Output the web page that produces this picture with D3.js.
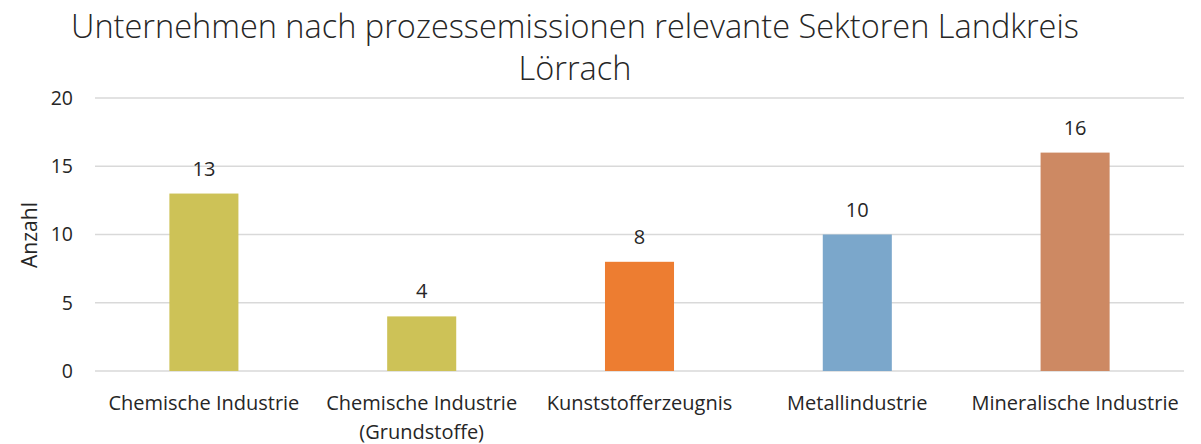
<!DOCTYPE html>
<html>
<head>
<meta charset="utf-8">
<script src="https://cdn.jsdelivr.net/npm/d3@7"></script>
<style>
  body { margin: 0; background: #fff; }
  text { font-family: "Open Sans", "Noto Sans", sans-serif; fill: #262626; }
</style>
</head>
<body>
<svg id="chart" width="1201" height="444"></svg>
<script>
const categories = [
  ['Chemische Industrie'],
  ['Chemische Industrie', '(Grundstoffe)'],
  ['Kunststofferzeugnis'],
  ['Metallindustrie'],
  ['Mineralische Industrie']
];
const counts = [13, 4, 8, 10, 16];
const barColors = ['#CDC257', '#CDC257', '#ED7D31', '#7BA7CB', '#CD8963'];
const yTicks = [0, 5, 10, 15, 20];
const titleLines = ['Unternehmen nach prozessemissionen relevante Sektoren Landkreis', 'Lörrach'];
const yTitle = 'Anzahl';

const svg = d3.select('#chart');
const margin = { left: 95, right: 17, top: 98, bottom: 73 };
const width = 1201, height = 444;

const x = d3.scaleBand()
  .domain(d3.range(counts.length))
  .range([margin.left, width - margin.right])
  .paddingInner(0.683).paddingOuter(0.3415);

const y = d3.scaleLinear().domain([0, 20]).range([height - margin.bottom, margin.top]);

// gridlines
svg.append('g').selectAll('line').data(yTicks).join('line')
  .attr('x1', margin.left).attr('x2', width - margin.right)
  .attr('y1', d => y(d)).attr('y2', d => y(d))
  .attr('stroke', '#D9D9D9').attr('stroke-width', 1.3);

// y axis labels
const yAxis = svg.append('g')
  .attr('transform', `translate(${margin.left},0)`)
  .call(d3.axisLeft(y).tickValues(yTicks).tickSize(0).tickPadding(22));
yAxis.select('.domain').remove();
yAxis.selectAll('text').style('font-size', '19.5px').style('font-family', '"Open Sans", sans-serif').attr('fill', '#262626');

// bars
svg.append('g').selectAll('rect').data(counts).join('rect')
  .attr('x', (d, i) => x(i)).attr('width', x.bandwidth())
  .attr('y', d => y(d)).attr('height', d => y(0) - y(d))
  .attr('fill', (d, i) => barColors[i]);

// value labels
svg.append('g').selectAll('text').data(counts).join('text')
  .attr('x', (d, i) => x(i) + x.bandwidth() / 2)
  .attr('y', d => y(d) - 18)
  .attr('text-anchor', 'middle')
  .style('font-size', '20px')
  .text(d => d);

// category labels
const cat = svg.append('g').selectAll('text').data(categories).join('text')
  .attr('x', (d, i) => x(i) + x.bandwidth() / 2)
  .attr('y', 410)
  .attr('text-anchor', 'middle')
  .style('font-size', '20px');
cat.selectAll('tspan').data(d => d).join('tspan')
  .attr('x', function () { return this.parentNode.getAttribute('x'); })
  .attr('dy', (d, i) => i === 0 ? 0 : 29)
  .text(d => d);

// y title
svg.append('text')
  .attr('transform', `translate(37,235) rotate(-90)`)
  .attr('text-anchor', 'middle')
  .style('font-size', '21px')
  .text(yTitle);

// title
svg.append('g').selectAll('text').data(titleLines).join('text')
  .attr('x', 575)
  .attr('y', (d, i) => 38 + i * 42)
  .attr('text-anchor', 'middle')
  .style('font-size', '32.5px')
  .style('font-weight', 300)
  .text(d => d);
</script>
</body>
</html>
